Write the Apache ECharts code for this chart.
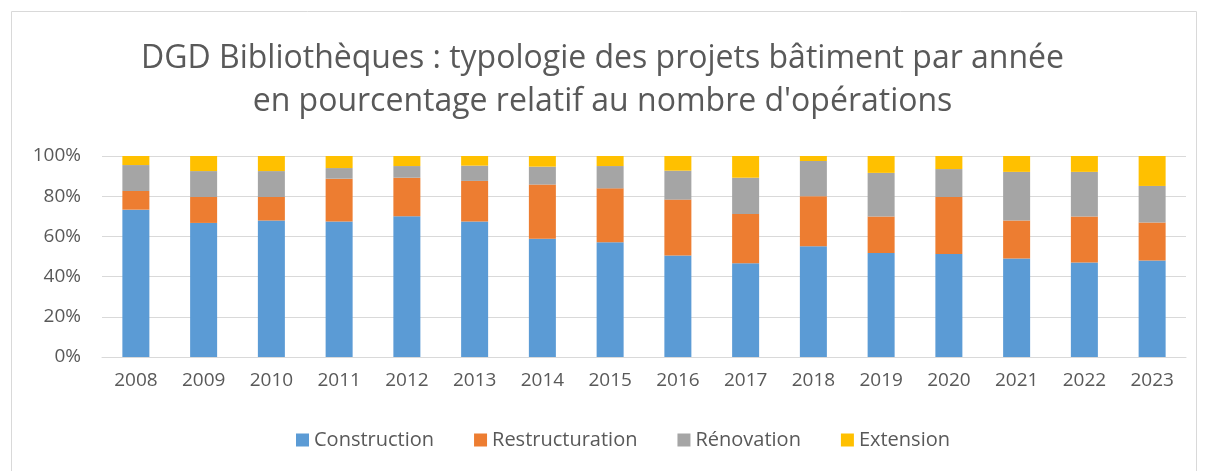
<!DOCTYPE html>
<html>
<head>
<meta charset="utf-8">
<script src="https://cdn.jsdelivr.net/npm/echarts@6/dist/echarts.min.js"></script>
<style>
  html, body { margin: 0; padding: 0; background: #fff; }
  #chart { width: 1205px; height: 471px; }
</style>
</head>
<body>
<div id="chart"></div>
<script>
// données (pourcentages)
var annees = ['2008','2009','2010','2011','2012','2013','2014','2015','2016','2017','2018','2019','2020','2021','2022','2023'];
var construction    = [73.3, 66.7, 67.9, 67.4, 70.0, 67.4, 58.8, 57.1, 50.5, 46.7, 55.1, 51.7, 51.2, 49.0, 47.0, 48.0];
var restructuration = [ 9.3, 12.9, 11.7, 21.3, 19.2, 20.2, 27.0, 26.8, 27.8, 24.5, 24.9, 18.2, 28.4, 18.9, 22.9, 18.9];
var renovation      = [12.9, 12.9, 12.9,  5.3,  5.8,  7.6,  8.9, 11.1, 14.4, 18.0, 17.5, 21.7, 13.9, 24.2, 22.2, 18.2];
var extension       = [ 4.5,  7.5,  7.5,  6.0,  5.0,  4.8,  5.3,  5.0,  7.3, 10.8,  2.5,  8.4,  6.5,  7.9,  7.9, 14.9];

var police = '"Open Sans", "Noto Sans", sans-serif';
var gris = '#595959';

function serie(nom, data, couleur) {
	return {
		name: nom,
		type: 'bar',
		stack: 'total',
		barWidth: 27,
		data: data,
		itemStyle: { color: couleur },
		emphasis: { disabled: true }
	};
}

var myChart = echarts.init(document.getElementById('chart'));
var option = {
	animation: false,
	graphic: [{
		type: 'rect',
		shape: { x: 11.5, y: 11.5, width: 1185, height: 470 },
		style: { fill: 'none', stroke: '#d9d9d9', lineWidth: 1 }
	}],
	title: {
		text: 'DGD Bibliothèques : typologie des projets bâtiment par année\nen pourcentage relatif au nombre d\'opérations',
		left: 'center',
		top: 32,
		textStyle: {
			fontFamily: police,
			fontSize: 32,
			fontWeight: 'normal',
			color: gris,
			lineHeight: 43,
			align: 'center'
		}
	},
	legend: {
		bottom: 16,
		left: 291,
		itemWidth: 13,
		itemHeight: 13,
		itemGap: 40,
		icon: 'rect',
		textStyle: { fontFamily: police, fontSize: 20, color: gris },
		data: ['Construction', 'Restructuration', 'Rénovation', 'Extension']
	},
	grid: { left: 102, right: 19, top: 156, bottom: 114 },
	xAxis: {
		type: 'category',
		data: annees,
		axisTick: { show: false },
		axisLine: { lineStyle: { color: '#d9d9d9', width: 1 } },
		axisLabel: { fontFamily: police, fontSize: 19, color: gris, margin: 14 }
	},
	yAxis: {
		type: 'value',
		min: 0,
		max: 100,
		interval: 20,
		axisLabel: { fontFamily: police, fontSize: 19, color: gris, margin: 21, formatter: '{value}%' },
		splitLine: { lineStyle: { color: '#d9d9d9', width: 1 } },
		axisLine: { show: false },
		axisTick: { show: false }
	},
	series: [
		serie('Construction', construction, '#5b9bd5'),
		serie('Restructuration', restructuration, '#ed7d31'),
		serie('Rénovation', renovation, '#a5a5a5'),
		serie('Extension', extension, '#ffc000')
	]
};
myChart.setOption(option);
</script>
</body>
</html>
